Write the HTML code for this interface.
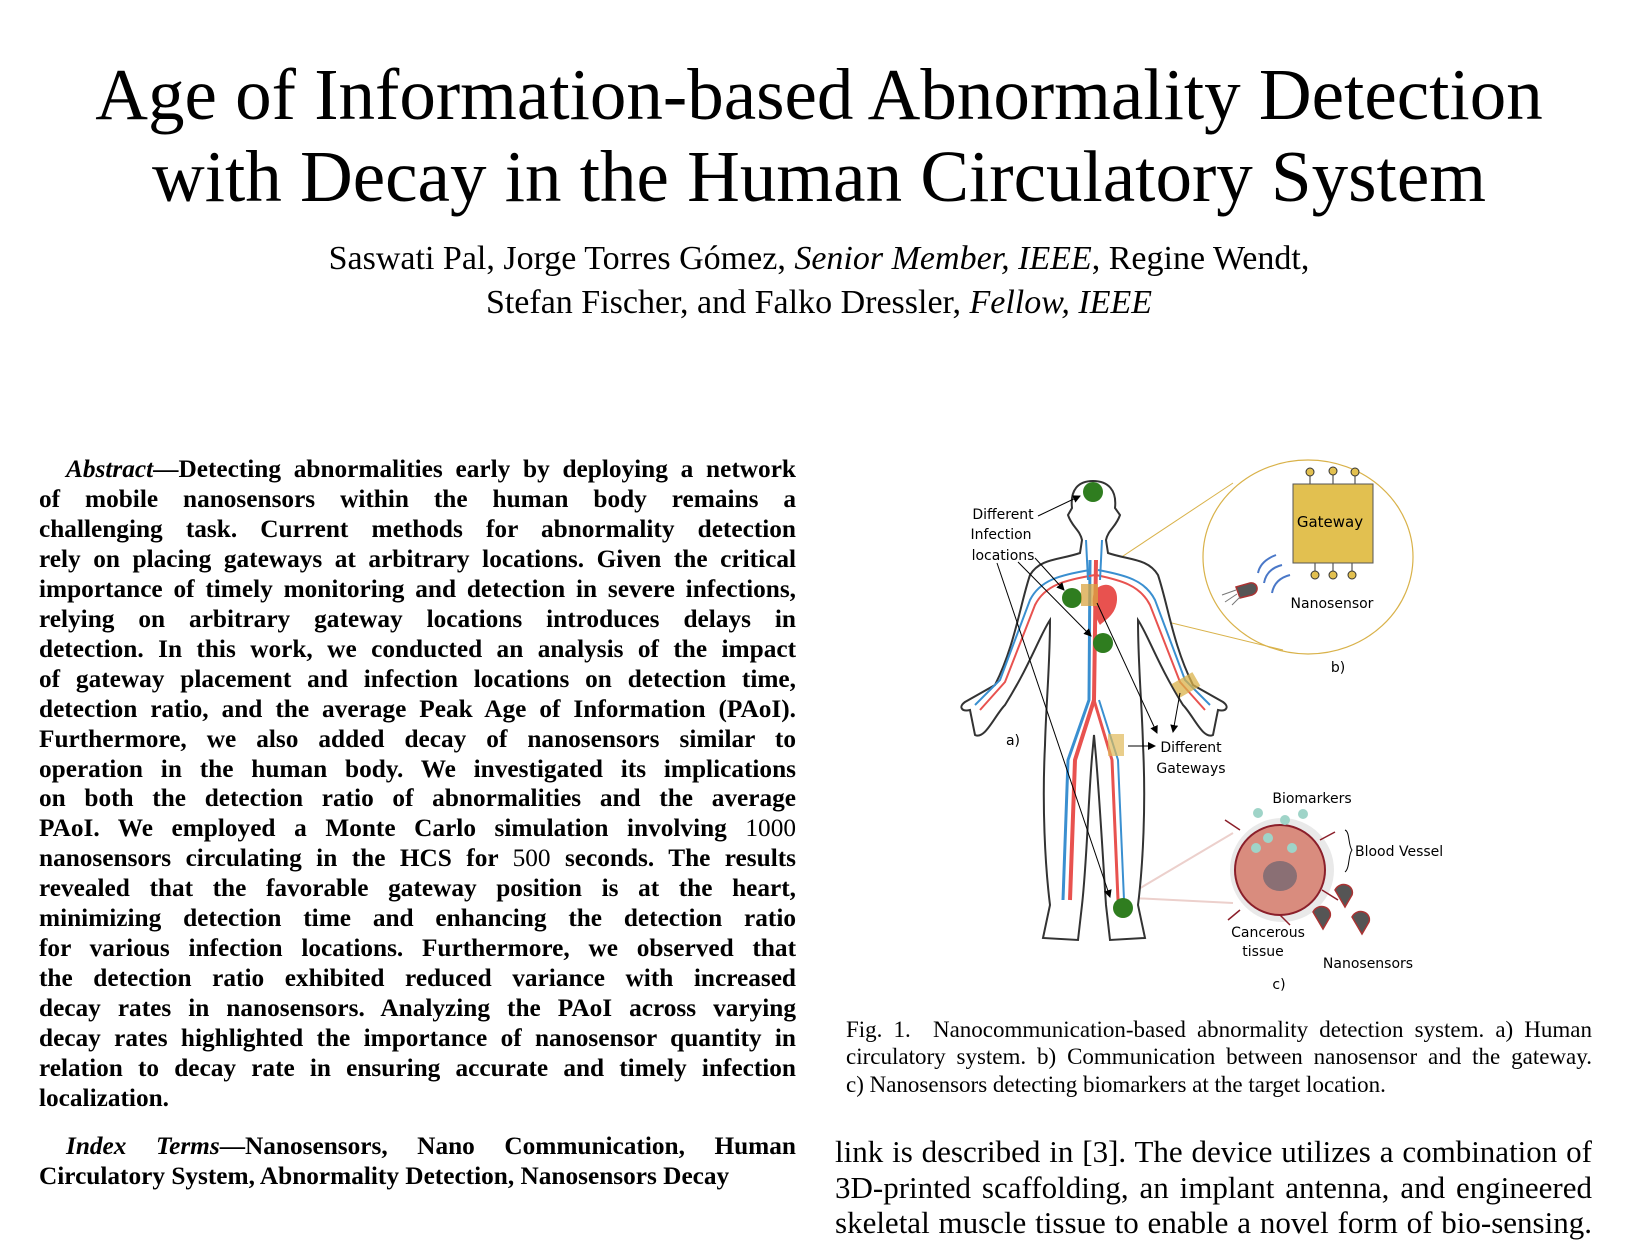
<!DOCTYPE html>
<html><head><meta charset="utf-8">
<style>
body{margin:0;width:1638px;height:1244px;background:#fff;position:relative;overflow:hidden;font-family:"Liberation Serif",serif;color:#000}
.t{position:absolute;left:0;width:1638px;text-align:center;font-size:73px;line-height:82px;white-space:nowrap}
.au{position:absolute;left:0;width:1638px;text-align:center;font-size:34px;line-height:44px}
.col{position:absolute;font-weight:bold;font-size:25.3px;line-height:29.95px;left:39px;width:757px}
.col div,.cap div,.bt div{text-align:justify;text-align-last:justify;white-space:nowrap}
.col div.l,.cap div.l{text-align-last:left}
.cap{position:absolute;left:846px;width:746px;font-size:23px;line-height:27.3px;top:1016px}
.bt{position:absolute;left:835px;width:757px;font-size:31px;line-height:35.6px;top:1134px}
svg text{font-family:"DejaVu Sans","Liberation Sans",sans-serif;font-size:14px}
</style></head><body>
<div class="t" style="top:54px">Age of Information-based Abnormality Detection</div>
<div class="t" style="top:136px">with Decay in the Human Circulatory System</div>
<div class="au" style="top:237px">Saswati Pal, Jorge Torres Gómez, <i>Senior Member, IEEE</i>, Regine Wendt,</div>
<div class="au" style="top:281px">Stefan Fischer, and Falko Dressler, <i>Fellow, IEEE</i></div>

<div class="col" style="top:455px">
<div><span style="display:inline-block;width:27px"></span><i>Abstract</i>—Detecting abnormalities early by deploying a network</div>
<div>of mobile nanosensors within the human body remains a</div>
<div>challenging task. Current methods for abnormality detection</div>
<div>rely on placing gateways at arbitrary locations. Given the critical</div>
<div>importance of timely monitoring and detection in severe infections,</div>
<div>relying on arbitrary gateway locations introduces delays in</div>
<div>detection. In this work, we conducted an analysis of the impact</div>
<div>of gateway placement and infection locations on detection time,</div>
<div>detection ratio, and the average Peak Age of Information (PAoI).</div>
<div>Furthermore, we also added decay of nanosensors similar to</div>
<div>operation in the human body. We investigated its implications</div>
<div>on both the detection ratio of abnormalities and the average</div>
<div>PAoI. We employed a Monte Carlo simulation involving <span style="font-weight:normal">1000</span></div>
<div>nanosensors circulating in the HCS for <span style="font-weight:normal">500</span> seconds. The results</div>
<div>revealed that the favorable gateway position is at the heart,</div>
<div>minimizing detection time and enhancing the detection ratio</div>
<div>for various infection locations. Furthermore, we observed that</div>
<div>the detection ratio exhibited reduced variance with increased</div>
<div>decay rates in nanosensors. Analyzing the PAoI across varying</div>
<div>decay rates highlighted the importance of nanosensor quantity in</div>
<div>relation to decay rate in ensuring accurate and timely infection</div>
<div class="l">localization.</div>
</div>
<div class="col" style="top:1132px">
<div><span style="display:inline-block;width:27px"></span><i>Index Terms</i>—Nanosensors, Nano Communication, Human</div>
<div class="l">Circulatory System, Abnormality Detection, Nanosensors Decay</div>
</div>

<svg style="position:absolute;left:0;top:0" width="1638" height="1244">
<defs><marker id="a" markerWidth="8" markerHeight="8" refX="7" refY="4" orient="auto"><path d="M0,0 L8,4 L0,8 Z" fill="#000"/></marker></defs>
<line x1="1102" y1="570" x2="1233" y2="483" stroke="#d9b24a" stroke-width="1"/>
<line x1="1110" y1="608" x2="1283" y2="650" stroke="#d9b24a" stroke-width="1"/>
<line x1="1132" y1="893" x2="1233" y2="833" stroke="#ecd0cc" stroke-width="2"/>
<line x1="1132" y1="898" x2="1233" y2="903" stroke="#ecd0cc" stroke-width="2"/>
<path d="M1093,481 C1078,481 1070,490 1072,508 L1068,515 C1072,527 1080,530 1082,540 L1080,553 C1060,560 1040,558 1030,575 C1020,605 1015,645 995,685 L965,702 C958,707 962,712 970,710 L975,735 C985,740 995,715 1005,705 C1030,665 1040,635 1050,620 C1050,665 1046,705 1045,745 C1042,805 1045,865 1050,905 L1043,938 L1078,940 L1082,905 C1087,860 1088,805 1092,757 L1094,735 L1096,757 C1100,805 1103,860 1106,905 L1110,940 L1145,938 L1138,905 C1143,865 1146,805 1143,745 C1142,705 1138,665 1138,620 C1148,635 1158,665 1183,705 C1193,715 1203,740 1213,735 L1218,710 C1226,712 1230,707 1223,702 L1193,685 C1173,645 1168,605 1158,575 C1148,558 1128,560 1108,553 L1106,540 C1108,530 1116,527 1120,515 L1115,508 C1117,490 1108,481 1093,481 Z" fill="#fff" stroke="#333" stroke-width="2"/>
<g fill="none" stroke-width="2">
<path d="M1096,560 L1094,700 L1075,760 L1070,900" stroke="#e8524f" stroke-width="4"/>
<path d="M1094,700 L1112,760 L1118,900" stroke="#e8524f" stroke-width="3"/>
<path d="M1090,560 L1089,700 L1068,760 L1063,900" stroke="#3a8fd0" stroke-width="3"/>
<path d="M1099,700 L1118,760 L1124,900" stroke="#3a8fd0" stroke-width="2"/>
<path d="M1090,570 C1060,575 1040,580 1030,600 L1000,680 L975,705" stroke="#3a8fd0"/>
<path d="M1095,575 C1065,580 1045,585 1035,605 L1005,682 L980,710" stroke="#e8524f"/>
<path d="M1098,570 C1125,575 1145,580 1155,600 L1185,680 L1210,705" stroke="#3a8fd0"/>
<path d="M1096,575 C1120,580 1140,585 1150,605 L1180,682 L1205,710" stroke="#e8524f"/>
<path d="M1086,540 L1088,580 M1102,540 L1100,580" stroke="#3a8fd0"/>
</g>
<path d="M1095,590 C1105,580 1118,585 1117,600 C1116,615 1105,620 1100,625 C1094,615 1090,600 1095,590 Z" fill="#e8524f"/>
<circle cx="1093" cy="492" r="10" fill="#2f7d1f"/>
<circle cx="1072" cy="598" r="10" fill="#2f7d1f"/>
<circle cx="1103" cy="643" r="10" fill="#2f7d1f"/>
<circle cx="1123" cy="908" r="10" fill="#2f7d1f"/>
<rect x="1081" y="584" width="17" height="22" fill="#d9a441" opacity="0.75"/>
<rect x="1108" y="734" width="16" height="22" fill="#e0b95a" opacity="0.7"/>
<rect x="1174" y="677" width="24" height="16" fill="#d9b24a" opacity="0.75" transform="rotate(-30 1186 685)"/>
<g stroke="#000" stroke-width="1" marker-end="url(#a)">
<line x1="1038" y1="516" x2="1080" y2="496"/>
<line x1="1035" y1="558" x2="1064" y2="590"/>
<line x1="1018" y1="562" x2="1091" y2="636"/>
<line x1="997" y1="563" x2="1110" y2="897"/>
<line x1="1097" y1="603" x2="1157" y2="733"/>
<line x1="1180" y1="693" x2="1173" y2="732"/>
<line x1="1128" y1="746" x2="1155" y2="746"/>
</g>
<text x="1003" y="519" text-anchor="middle">Different</text>
<text x="1001" y="539" text-anchor="middle">Infection</text>
<text x="1003" y="560" text-anchor="middle">locations</text>
<text x="1013" y="745" text-anchor="middle">a)</text>
<text x="1191" y="752" text-anchor="middle">Different</text>
<text x="1191" y="773" text-anchor="middle">Gateways</text>
<ellipse cx="1308" cy="557" rx="105" ry="97" fill="none" stroke="#d9b24a" stroke-width="1.2"/>
<g stroke="#333" stroke-width="1" fill="#e2c050">
<line x1="1310" y1="472" x2="1310" y2="484"/><line x1="1333" y1="472" x2="1333" y2="484"/><line x1="1355" y1="472" x2="1355" y2="484"/>
<line x1="1315" y1="563" x2="1315" y2="575"/><line x1="1333" y1="563" x2="1333" y2="575"/><line x1="1352" y1="563" x2="1352" y2="575"/>
<circle cx="1310" cy="472" r="4"/><circle cx="1333" cy="471" r="4"/><circle cx="1355" cy="472" r="4"/>
<circle cx="1315" cy="575" r="4"/><circle cx="1333" cy="575" r="4"/><circle cx="1352" cy="575" r="4"/>
<rect x="1293" y="484" width="80" height="79" fill="#e2c050" stroke="#555"/>
</g>
<text x="1330" y="527" text-anchor="middle" style="font-size:15px">Gateway</text>
<g fill="none" stroke="#4a78c8" stroke-width="2">
<path d="M1258,573 C1260,563 1268,558 1276,555"/><path d="M1264,583 C1266,572 1274,567 1282,565"/><path d="M1272,593 C1274,582 1282,577 1290,575"/>
</g>
<path d="M1236,587 L1250,583 C1258,582 1260,592 1252,595 L1240,598 Z" fill="#555" stroke="#a33" stroke-width="1.5"/>
<path d="M1236,590 L1222,595 M1237,594 L1225,602 M1240,597 L1232,605" stroke="#777"/>
<text x="1332" y="608" text-anchor="middle">Nanosensor</text>
<text x="1338" y="672" text-anchor="middle">b)</text>
<circle cx="1282" cy="870" r="52" fill="#e0e0e0" opacity="0.7"/>
<circle cx="1280" cy="870" r="45" fill="#d98c7e" stroke="#8b1f2a" stroke-width="2"/>
<ellipse cx="1280" cy="876" rx="17" ry="15" fill="#8a6f74"/>
<g stroke="#8b1f2a" stroke-width="1.5" fill="none"><path d="M1240,830 L1225,820 M1320,840 L1335,832 M1322,890 L1338,900 M1240,910 L1228,920 M1280,915 L1290,925"/></g>
<g fill="#9fd4c8"><circle cx="1258" cy="813" r="5"/><circle cx="1303" cy="814" r="5"/><circle cx="1285" cy="820" r="5"/><circle cx="1268" cy="838" r="5"/><circle cx="1256" cy="848" r="5"/><circle cx="1292" cy="848" r="5"/></g>
<text x="1312" y="803" text-anchor="middle">Biomarkers</text>
<path d="M1345,830 C1350,832 1348,845 1352,850 C1348,855 1350,868 1345,872" fill="none" stroke="#000"/>
<text x="1355" y="856">Blood Vessel</text>
<g fill="#555" stroke="#a33" stroke-width="1.5">
<path d="M1335,890 C1340,880 1355,885 1352,895 L1345,907 Z"/>
<path d="M1313,912 C1318,902 1333,907 1330,917 L1323,929 Z"/>
<path d="M1352,917 C1357,907 1372,912 1369,922 L1362,934 Z"/>
</g>
<text x="1268" y="937" text-anchor="middle">Cancerous</text>
<text x="1263" y="956" text-anchor="middle">tissue</text>
<text x="1368" y="968" text-anchor="middle">Nanosensors</text>
<text x="1279" y="989" text-anchor="middle">c)</text>
</svg>

<div class="cap">
<div>Fig. 1.&nbsp; Nanocommunication-based abnormality detection system. a) Human</div>
<div>circulatory system. b) Communication between nanosensor and the gateway.</div>
<div class="l">c) Nanosensors detecting biomarkers at the target location.</div>
</div>
<div class="bt">
<div>link is described in [3]. The device utilizes a combination of</div>
<div>3D-printed scaffolding, an implant antenna, and engineered</div>
<div>skeletal muscle tissue to enable a novel form of bio-sensing.</div>
</div>
</body></html>
